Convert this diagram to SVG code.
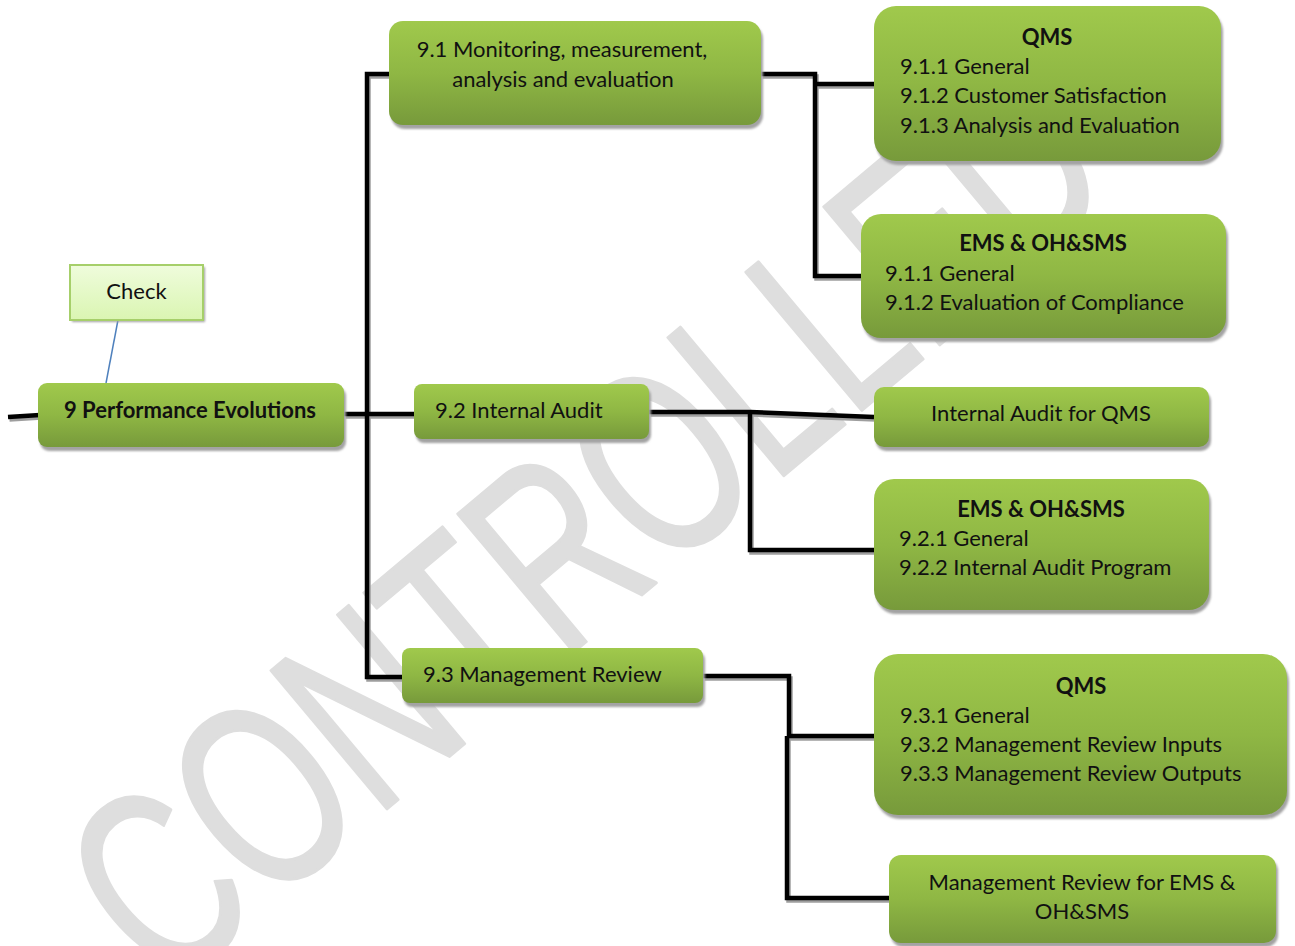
<svg xmlns="http://www.w3.org/2000/svg" width="1295" height="946" viewBox="0 0 1295 946">
  <defs>
    <linearGradient id="gGreen" x1="0" y1="0" x2="0" y2="1">
      <stop offset="0" stop-color="#a0c94c"/>
      <stop offset="0.5" stop-color="#8fb744"/>
      <stop offset="1" stop-color="#779a3b"/>
    </linearGradient>
    <linearGradient id="gPale" x1="0" y1="0" x2="0" y2="1">
      <stop offset="0" stop-color="#effcdc"/>
      <stop offset="1" stop-color="#daf5b2"/>
    </linearGradient>
    <filter id="soft" x="-5%" y="-5%" width="110%" height="120%">
      <feGaussianBlur stdDeviation="0.8"/>
    </filter>
  </defs>
  <style>
    .box { fill: url(#gGreen); }
    .shadow { fill: #a3a3a3; filter: url(#soft); }
    .t { font-family: Lato, "Liberation Sans", sans-serif; font-size: 22px; fill: #111; }
    .b { font-weight: bold; }
    .c { text-anchor: middle; }
    .wire { fill: none; stroke: #000; stroke-width: 4.5; stroke-linejoin: miter; }
    .wire-sh { fill: none; stroke: #9e9e9e; stroke-width: 4.5; }
    .mark { font-family: "Liberation Sans", sans-serif; fill: #dedede; stroke: #dedede; stroke-width: 3; stroke-linejoin: round; }
  </style>

  <rect width="1295" height="946" fill="#fff"/>

  <!-- watermark -->
  <text class="mark" transform="translate(165,995) rotate(-40)" font-size="262" textLength="1250" lengthAdjust="spacingAndGlyphs">CONTROLLED</text>

  <!-- connectors -->
  <g id="connectors">
    <g transform="translate(1.5,2.5)">
      <path class="wire-sh" d="M8,417 L40,415"/>
      <path class="wire-sh" d="M344,414 H414"/>
      <path class="wire-sh" d="M389,74 H367 V677 H402"/>
      <path class="wire-sh" d="M761,74 H815 V276 H861"/>
      <path class="wire-sh" d="M815,84 H874"/>
      <path class="wire-sh" d="M649,412 H750 L874,417"/>
      <path class="wire-sh" d="M750,412 V550 H874"/>
      <path class="wire-sh" d="M703,676 H789 V736 H874"/>
      <path class="wire-sh" d="M787,736 V898 H889"/>
    </g>
    <path class="wire" d="M8,417 L40,415"/>
    <path class="wire" d="M344,414 H414"/>
    <path class="wire" d="M389,74 H367 V677 H402"/>
    <path class="wire" d="M761,74 H815 V276 H861"/>
    <path class="wire" d="M815,84 H874"/>
    <path class="wire" d="M649,412 H750 L874,417"/>
    <path class="wire" d="M750,412 V550 H874"/>
    <path class="wire" d="M703,676 H789 V736 H874"/>
    <path class="wire" d="M787,736 V898 H889"/>
    <line x1="118" y1="320" x2="106" y2="383" stroke="#4f81bd" stroke-width="1.5"/>
  </g>

  <g id="check">
    <rect class="shadow" x="72" y="267" width="133" height="55"/>
    <rect x="70" y="265" width="133" height="55" fill="url(#gPale)" stroke="#a6cf6a" stroke-width="2"/>
    <text class="t c" x="136.5" y="299">Check</text>
  </g>

  <g id="n9">
    <rect class="shadow" x="40" y="387" width="306" height="64" rx="9"/>
    <rect class="box" x="38" y="383" width="306" height="64" rx="9"/>
    <text class="t b c" x="190" y="418">9 Performance Evolutions</text>
  </g>

  <g id="n91">
    <rect class="shadow" x="391" y="25" width="372" height="104" rx="14"/>
    <rect class="box" x="389" y="21" width="372" height="104" rx="14"/>
    <text class="t c" x="562" y="57">9.1 Monitoring, measurement,</text>
    <text class="t c" x="563" y="87">analysis and evaluation</text>
  </g>

  <g id="n92">
    <rect class="shadow" x="416" y="388" width="235" height="55" rx="8"/>
    <rect class="box" x="414" y="384" width="235" height="55" rx="8"/>
    <text class="t" x="435" y="418">9.2 Internal Audit</text>
  </g>

  <g id="n93">
    <rect class="shadow" x="404" y="652" width="301" height="55" rx="8"/>
    <rect class="box" x="402" y="648" width="301" height="55" rx="8"/>
    <text class="t" x="423" y="682">9.3 Management Review</text>
  </g>

  <g id="n91-qms">
    <rect class="shadow" x="876" y="10" width="347" height="155" rx="22"/>
    <rect class="box" x="874" y="6" width="347" height="155" rx="22"/>
    <text class="t b c" x="1047" y="45">QMS</text>
    <text class="t" x="900" y="74">9.1.1 General</text>
    <text class="t" x="900" y="103">9.1.2 Customer Satisfaction</text>
    <text class="t" x="900" y="133">9.1.3 Analysis and Evaluation</text>
  </g>

  <g id="n91-ems">
    <rect class="shadow" x="863" y="218" width="365" height="124" rx="20"/>
    <rect class="box" x="861" y="214" width="365" height="124" rx="20"/>
    <text class="t b c" x="1043" y="251">EMS &amp; OH&amp;SMS</text>
    <text class="t" x="885" y="281">9.1.1 General</text>
    <text class="t" x="885" y="310">9.1.2 Evaluation of Compliance</text>
  </g>

  <g id="n92-qms">
    <rect class="shadow" x="876" y="391" width="335" height="60" rx="10"/>
    <rect class="box" x="874" y="387" width="335" height="60" rx="10"/>
    <text class="t c" x="1041" y="421">Internal Audit for QMS</text>
  </g>

  <g id="n92-ems">
    <rect class="shadow" x="876" y="483" width="335" height="131" rx="20"/>
    <rect class="box" x="874" y="479" width="335" height="131" rx="20"/>
    <text class="t b c" x="1041" y="517">EMS &amp; OH&amp;SMS</text>
    <text class="t" x="899" y="546">9.2.1 General</text>
    <text class="t" x="899" y="575">9.2.2 Internal Audit Program</text>
  </g>

  <g id="n93-qms">
    <rect class="shadow" x="876" y="658" width="413" height="161" rx="24"/>
    <rect class="box" x="874" y="654" width="413" height="161" rx="24"/>
    <text class="t b c" x="1081" y="694">QMS</text>
    <text class="t" x="900" y="723">9.3.1 General</text>
    <text class="t" x="900" y="752">9.3.2 Management Review Inputs</text>
    <text class="t" x="900" y="781">9.3.3 Management Review Outputs</text>
  </g>

  <g id="n93-ems">
    <rect class="shadow" x="891" y="859" width="387" height="88" rx="12"/>
    <rect class="box" x="889" y="855" width="387" height="88" rx="12"/>
    <text class="t c" x="1082" y="890">Management Review for EMS &amp;</text>
    <text class="t c" x="1082" y="919">OH&amp;SMS</text>
  </g>
</svg>
